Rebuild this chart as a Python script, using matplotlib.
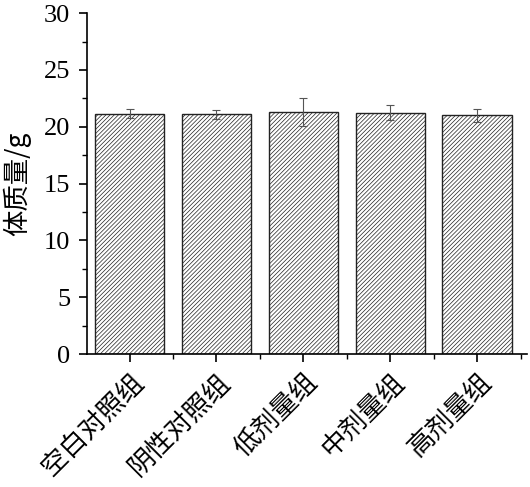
import matplotlib
matplotlib.use("Agg")
import matplotlib.pyplot as plt
from matplotlib.ticker import MultipleLocator, FixedLocator

categories = ["空白对照组", "阴性对照组", "低剂量组", "中剂量组", "高剂量组"]
values = [21.15, 21.1, 21.3, 21.25, 21.0]
errors = [0.38, 0.38, 1.2, 0.65, 0.55]

plt.rcParams['font.family'] = ['Liberation Serif', 'Noto Sans CJK SC']
plt.rcParams['hatch.color'] = '#8c8c8c'
plt.rcParams['hatch.linewidth'] = 0.5

fig = plt.figure(figsize=(5.30, 4.87), dpi=100)
ax = fig.add_axes([0.164, 0.273, 0.830, 0.700])

x = list(range(len(categories)))
ax.bar(x, values, width=0.8, color='white', edgecolor='#222222', linewidth=1.0,
       hatch='////////', yerr=errors,
       error_kw=dict(ecolor='#555555', elinewidth=0.8, capsize=3, capthick=0.8))

ax.set_ylim(0, 30)
ax.set_xlim(-0.49, 4.57)
ax.yaxis.set_major_locator(MultipleLocator(5))
ax.yaxis.set_minor_locator(MultipleLocator(2.5))
ax.set_xticks(x)
ax.xaxis.set_minor_locator(FixedLocator([i + 0.5 for i in x]))
ax.set_xticklabels(categories, rotation=45, ha='right', rotation_mode='anchor',
                   fontsize=19, family=['Noto Sans CJK SC'])
for lab in ax.get_yticklabels():
    lab.set_fontsize(19)
ax.tick_params(axis='both', which='major', direction='out', length=6, width=1.2)
ax.tick_params(axis='both', which='minor', direction='out', length=3.5, width=1.0)
ax.tick_params(axis='x', pad=4)
ax.tick_params(axis='y', pad=6)
ax.spines['top'].set_visible(False)
ax.spines['right'].set_visible(False)
ax.spines['left'].set_linewidth(1.2)
ax.spines['bottom'].set_linewidth(1.2)
ax.set_ylabel("体质量/g", fontsize=19, family=['Noto Sans CJK SC', 'Liberation Serif'],
              labelpad=9)

fig.savefig("out.png", dpi=100)
